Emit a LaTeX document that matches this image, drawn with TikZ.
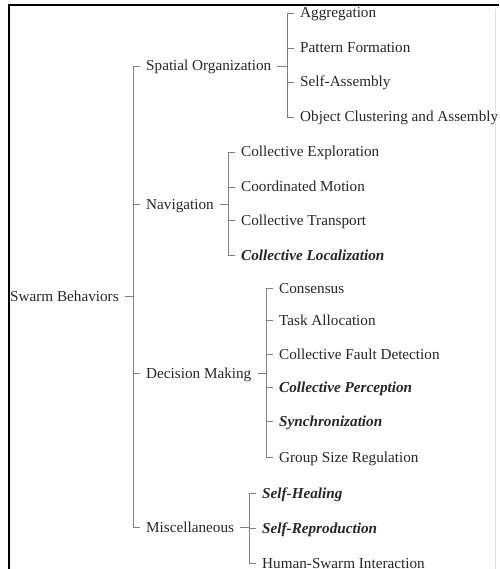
\documentclass[tikz,border=0pt]{standalone}
\usepackage{fontspec}
\setmainfont{Liberation Serif}
\usetikzlibrary{calc}
\begin{document}
\begin{tikzpicture}[x=1pt,y=-1pt,
  lbl/.style={anchor=base west,inner xsep=6pt,inner ysep=1pt,
    font=\fontsize{15.2}{18}\selectfont,text=black!85},
  em/.style={lbl,font=\fontsize{15.2}{18}\selectfont\bfseries\itshape},
  tree/.style={draw=black!50,line width=1pt}]
\useasboundingbox (0,0) rectangle (499,569);
\draw[line width=1.6pt,black] (9,569) -- (9,5) -- (499,5);
\draw[black!12,line width=0.6pt] (495,9) -- (495,569);
\def\tk{4.2pt}
% root
\node[lbl] (root) at (4,301) {Swarm Behaviors};
% level 1
\node[lbl] (spa) at (140,71) {Spatial Organization};
\node[lbl] (nav) at (140,209) {Navigation};
\node[lbl] (dec) at (140,378) {Decision Making};
\node[lbl] (mis) at (140,532) {Miscellaneous};
% spatial
\node[lbl] (s1) at (294,18) {Aggregation};
\node[lbl] (s2) at (294,53) {Pattern Formation};
\node[lbl] (s3) at (294,87) {Self-Assembly};
\node[lbl] (s4) at (294,122) {Object Clustering and Assembly};
% navigation
\node[lbl] (n1) at (235,157) {Collective Exploration};
\node[lbl] (n2) at (235,192) {Coordinated Motion};
\node[lbl] (n3) at (235,225) {Collective Transport};
\node[em]  (n4) at (235,260) {Collective Localization};
% decision
\node[lbl] (d1) at (273,293) {Consensus};
\node[lbl] (d2) at (273,325) {Task Allocation};
\node[lbl] (d3) at (273,359) {Collective Fault Detection};
\node[em]  (d4) at (273,392) {Collective Perception};
\node[em]  (d5) at (273,426) {Synchronization};
\node[lbl] (d6) at (273,462) {Group Size Regulation};
% misc
\node[em]  (m1) at (256,498) {Self-Healing};
\node[em]  (m2) at (256,533) {Self-Reproduction};
\node[lbl] (m3) at (256,568) {Human-Swarm Interaction};
% verticals
\coordinate (vr) at ($([yshift=\tk]spa.base west)+(-7,0)$);
\coordinate (vs) at ($([yshift=\tk]s1.base west)+(-7,0)$);
\coordinate (vn) at ($([yshift=\tk]n1.base west)+(-7,0)$);
\coordinate (vd) at ($([yshift=\tk]d1.base west)+(-7,0)$);
\coordinate (vm) at ($([yshift=\tk]m1.base west)+(-7,0)$);
% root connectors
\draw[tree] ([yshift=\tk]root.base east) -- ([yshift=\tk]root.base east -| vr);
\draw[tree] ([yshift=\tk]spa.base west) -- (vr) |- ([yshift=\tk]mis.base west);
\foreach \c in {nav,dec} \draw[tree] ([yshift=\tk]\c.base west) -- ([yshift=\tk]\c.base west -| vr);
% spatial
\draw[tree] ([yshift=\tk]spa.base east) -- ([yshift=\tk]spa.base east -| vs);
\draw[tree] ([yshift=\tk]s1.base west) -- (vs) |- ([yshift=\tk]s4.base west);
\foreach \c in {s2,s3} \draw[tree] ([yshift=\tk]\c.base west) -- ([yshift=\tk]\c.base west -| vs);
% navigation
\draw[tree] ([yshift=\tk]nav.base east) -- ([yshift=\tk]nav.base east -| vn);
\draw[tree] ([yshift=\tk]n1.base west) -- (vn) |- ([yshift=\tk]n4.base west);
\foreach \c in {n2,n3} \draw[tree] ([yshift=\tk]\c.base west) -- ([yshift=\tk]\c.base west -| vn);
% decision
\draw[tree] ([yshift=\tk]dec.base east) -- ([yshift=\tk]dec.base east -| vd);
\draw[tree] ([yshift=\tk]d1.base west) -- (vd) |- ([yshift=\tk]d6.base west);
\foreach \c in {d2,d3,d4,d5} \draw[tree] ([yshift=\tk]\c.base west) -- ([yshift=\tk]\c.base west -| vd);
% misc
\draw[tree] ([yshift=\tk]mis.base east) -- ([yshift=\tk]mis.base east -| vm);
\draw[tree] ([yshift=\tk]m1.base west) -- (vm) |- ([yshift=\tk]m3.base west);
\draw[tree] ([yshift=\tk]m2.base west) -- ([yshift=\tk]m2.base west -| vm);
\end{tikzpicture}
\end{document}
